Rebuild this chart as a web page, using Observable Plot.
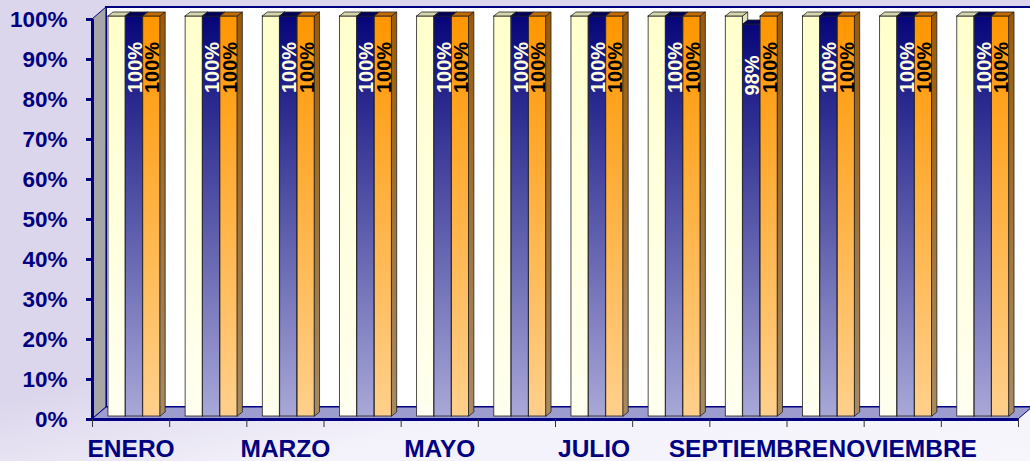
<!DOCTYPE html>
<html><head><meta charset="utf-8">
<script src="https://cdn.jsdelivr.net/npm/d3@7"></script>
<script src="https://cdn.jsdelivr.net/npm/@observablehq/plot@0.6"></script>
<style>
html,body{margin:0;padding:0;width:1030px;height:461px;overflow:hidden;
background: linear-gradient(166deg,#dcd6ec 0%,#dcd6ec 56%,#f3f1fa 74%,#f7f6fc 100%);}
svg{display:block}
</style></head><body><div id="chart"></div>
<script>
const months = ["ENERO","FEBRERO","MARZO","ABRIL","MAYO","JUNIO","JULIO","AGOSTO","SEPTIEMBRE","OCTUBRE","NOVIEMBRE","DICIEMBRE"];
const serieMeta  = [100,100,100,100,100,100,100,100,100,100,100,100];
const serieReal  = [100,100,100,100,100,100,100,100,98,100,100,100];
const serieCumpl = [100,100,100,100,100,100,100,100,100,100,100,100];
const xTickLabels = ["ENERO","MARZO","MAYO","JULIO","SEPTIEMBRE","NOVIEMBRE"];
const yTicks = [0,10,20,30,40,50,60,70,80,90,100];

const NAVY = "#000080";
const series = [
  {values: serieMeta,  front:"url(#gCream)",  top:"#d6d6ac", side:"#e4e4bc", label:null},
  {values: serieReal,  front:"url(#gBlue)",   top:"#00005c", side:"#000070", label:"#ffffe0"},
  {values: serieCumpl, front:"url(#gOrange)", top:"#c46c00", side:"url(#gOrangeSide)", label:"#000000"}
];
// geometry in data units (x: one unit per month, y: percent)
const OFF0 = 0.168, BW = 0.2255, DX = 0.065, DY = 1, WX = 0.181, WY = 3;
const N = months.length;

const marks = [];
// back wall
marks.push(Plot.rect([0], {x1: WX, x2: N + WX + 0.5, y1: WY, y2: 100 + WY, fill: "white", stroke: NAVY, strokeWidth: 2}));
// left wall
marks.push(Plot.areaY([{x:0,y1:0,y2:100},{x:WX,y1:WY,y2:100+WY}], {x:"x", y1:"y1", y2:"y2", fill:"#a6a6a6", stroke:NAVY, strokeWidth:1}));
// floor
marks.push(Plot.areaY([
  {x:0, y1:0, y2:0},{x:WX, y1:0, y2:WY},{x:N, y1:0, y2:WY},{x:N+WX, y1:WY, y2:WY}
], {x:"x", y1:"y1", y2:"y2", fill:"#9c9cce", stroke:NAVY, strokeWidth:1}));

series.forEach((s, j) => {
  const bars = s.values.map((v, i) => {
    const x0 = i + OFF0 + j * BW;
    return {i, v, x0, x1: x0 + BW};
  });
  const tops = bars.flatMap(b => [
    {z:b.i, x:b.x0,      y1:b.v,      y2:b.v},
    {z:b.i, x:b.x0+DX,   y1:b.v,      y2:b.v+DY},
    {z:b.i, x:b.x1,      y1:b.v,      y2:b.v+DY},
    {z:b.i, x:b.x1+DX,   y1:b.v+DY,   y2:b.v+DY}
  ]);
  const sides = bars.flatMap(b => [
    {z:b.i, x:b.x1,    y1:0,  y2:b.v},
    {z:b.i, x:b.x1+DX, y1:DY, y2:b.v+DY}
  ]);
  const common = {dx: 3, dy: -3, stroke: "#222", strokeWidth: 0.8};
  marks.push(Plot.rectY(bars, {x1:"x0", x2:"x1", y1:0, y2:"v", fill: s.front, ...common}));
  marks.push(Plot.areaY(tops, {x:"x", y1:"y1", y2:"y2", z:"z", fill: s.top, ...common}));
  marks.push(Plot.areaY(sides, {x:"x", y1:"y1", y2:"y2", z:"z", fill: s.side, ...common}));
});

// value labels
series.forEach((s, j) => {
  if (!s.label) return;
  const pts = s.values.map((v, i) => ({v, xc: i + OFF0 + j * BW + BW / 2}));
  marks.push(Plot.text(pts, {
    x: "xc", y: "v", text: d => d.v + "%", rotate: -90,
    textAnchor: "middle", lineAnchor: "middle",
    fill: s.label, fontSize: 20, fontWeight: "bold",
    fontFamily: "'Liberation Sans', Arial, sans-serif",
    dx: 4, dy: 48
  }));
});

// axes
marks.push(Plot.ruleX([0], {y1: 0, y2: 100, stroke: NAVY, strokeWidth: 3}));
marks.push(Plot.ruleY([0], {x1: 0, x2: N, stroke: NAVY, strokeWidth: 3}));
marks.push(Plot.axisY({ticks: yTicks, tickFormat: d => d + "%", tickSize: 6, tickPadding: 19,
  color: NAVY, strokeWidth: 3, fontSize: 22.5, fontWeight: "bold", label: null}));
marks.push(Plot.axisX({ticks: months.map((_, i) => i).concat(N), tickSize: 8, tickFormat: () => "",
  stroke: "#333", strokeWidth: 1, label: null}));
marks.push(Plot.axisX({ticks: xTickLabels.map(m => months.indexOf(m) + 0.5), tickSize: 0, tickPadding: 20,
  tickFormat: v => months[Math.round(v - 0.5)], color: NAVY, fontSize: 24.5, fontWeight: "bold", label: null}));

const svg = Plot.plot({
  width: 1030, height: 461,
  marginLeft: 92, marginRight: 12, marginTop: 19, marginBottom: 42,
  x: {type: "linear", domain: [0, N], axis: null},
  y: {domain: [0, 100], axis: null},
  style: {background: "transparent", fontFamily: "'Liberation Sans', Arial, sans-serif", overflow: "visible"},
  marks
});

const defs = d3.select(svg).insert("defs", ":first-child");
function grad(id, stops) {
  const g = defs.append("linearGradient").attr("id", id).attr("x1", 0).attr("y1", 0).attr("x2", 0).attr("y2", 1);
  stops.forEach(([o, c]) => g.append("stop").attr("offset", o).attr("stop-color", c));
}
grad("gBlue", [[0, "#06067a"], [1, "#a8a8d8"]]);
grad("gOrange", [[0, "#ff9600"], [1, "#ffd08c"]]);
grad("gOrangeSide", [[0, "#9c5a06"], [1, "#a88a62"]]);
grad("gCream", [[0, "#ffffcc"], [1, "#fffff0"]]);

document.getElementById("chart").appendChild(svg);
</script></body></html>
